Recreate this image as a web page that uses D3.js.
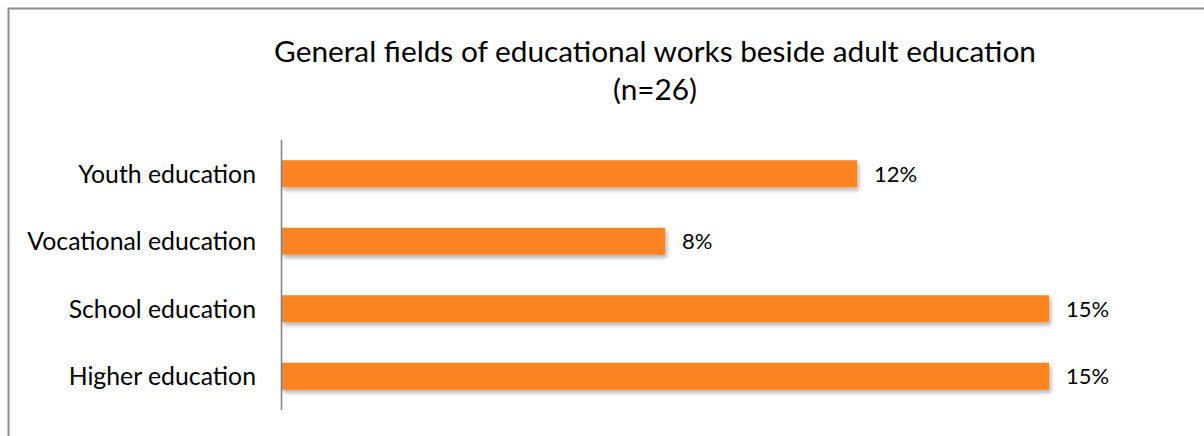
<!DOCTYPE html>
<html>
<head>
<meta charset="utf-8">
<script src="https://cdn.jsdelivr.net/npm/d3@7"></script>
<style>
  html, body { margin: 0; padding: 0; background: #fff; }
  svg { display: block; }
  text { font-family: Lato, "Open Sans", sans-serif; fill: #000; }
</style>
</head>
<body>
<svg id="chart" width="1204" height="436"></svg>
<script>
const categories = ["Youth education", "Vocational education", "School education", "Higher education"];
const values = [3 / 26, 2 / 26, 4 / 26, 4 / 26];
const valueLabels = ["12%", "8%", "15%", "15%"];
const titleLines = ["General fields of educational works beside adult education", "(n=26)"];

const svg = d3.select("#chart");
const W = 1204, H = 436;

// outer frame (cropped at right and bottom)
svg.append("path")
  .attr("d", `M8.5,${H + 5} L8.5,8.5 L${W + 5},8.5`)
  .attr("fill", "none")
  .attr("stroke", "#8c8c8c")
  .attr("stroke-width", 2);

const defs = svg.append("defs");
const f = defs.append("filter").attr("id", "shadow")
  .attr("x", "-5%").attr("y", "-40%").attr("width", "110%").attr("height", "200%");
f.append("feDropShadow").attr("dx", 2).attr("dy", 3).attr("stdDeviation", 2)
  .attr("flood-color", "#000").attr("flood-opacity", 0.3);

const margin = { left: 281, top: 140 };
const plotBottom = 410;

const x = d3.scaleLinear().domain([0, 0.16]).range([margin.left, margin.left + 0.16 * 4992]);
const y = d3.scaleBand().domain(categories).range([margin.top, plotBottom]).paddingInner(0.6).paddingOuter(0.3);

// title
svg.append("g").selectAll("text").data(titleLines).join("text")
  .attr("x", 655).attr("y", (d, i) => 62 + i * 38)
  .attr("text-anchor", "middle")
  .attr("font-size", 29.8)
  .text(d => d);

// bars
svg.append("g").selectAll("rect").data(categories).join("rect")
  .attr("x", x(0))
  .attr("y", d => y(d))
  .attr("width", (d, i) => x(values[i]) - x(0))
  .attr("height", y.bandwidth())
  .attr("fill", "#fd8421")
  .attr("filter", "url(#shadow)");

// value labels
svg.append("g").selectAll("text").data(categories).join("text")
  .attr("x", (d, i) => x(values[i]) + 17)
  .attr("y", d => y(d) + y.bandwidth() / 2)
  .attr("dy", "0.36em")
  .attr("font-size", 22)
  .text((d, i) => valueLabels[i]);

// y axis
const yAxis = d3.axisLeft(y).tickSize(0).tickPadding(25);
const gy = svg.append("g").attr("transform", `translate(${margin.left},0)`).call(yAxis);
gy.select(".domain").attr("stroke", "#808080").attr("stroke-width", 1.5)
  .attr("d", `M0.5,${margin.top}V${plotBottom}`);
gy.selectAll(".tick text").attr("font-size", 24.8).attr("fill", "#000")
  .attr("dy", "0.36em")
  .style("font-family", "Lato, 'Open Sans', sans-serif");
</script>
</body>
</html>
